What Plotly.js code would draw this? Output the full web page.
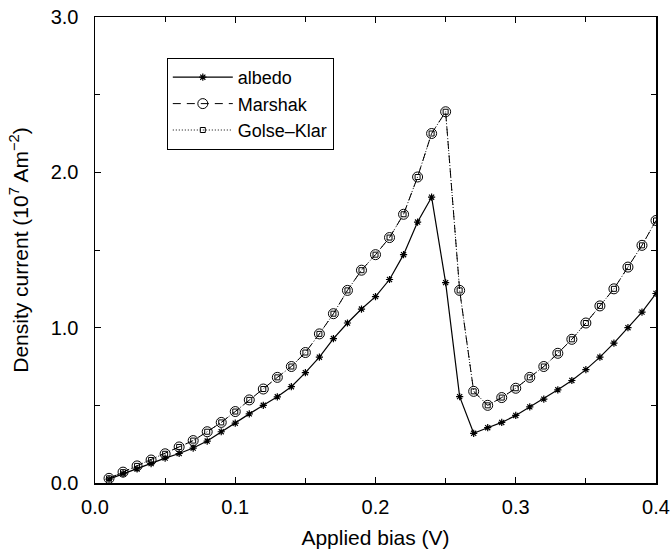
<!DOCTYPE html>
<html>
<head>
<meta charset="utf-8">
<script src="https://cdn.plot.ly/plotly-3.0.1.min.js"></script>
<style>html,body{margin:0;padding:0;background:#fff;}</style>
</head>
<body>
<div id="chart" style="width:672px;height:550px;"></div>
<script>
const bias = [0.01,0.02,0.03,0.04,0.05,0.06,0.07,0.08,0.09,0.10,
              0.11,0.12,0.13,0.14,0.15,0.16,0.17,0.18,0.19,0.20,
              0.21,0.22,0.23,0.24,0.25,0.26,0.27,0.28,0.29,0.30,
              0.31,0.32,0.33,0.34,0.35,0.36,0.37,0.38,0.39,0.40];
const albedo = [0.025,0.06,0.09,0.125,0.16,0.19,0.225,0.27,0.33,0.385,
                0.445,0.50,0.555,0.62,0.71,0.81,0.93,1.03,1.12,1.20,
                1.31,1.47,1.68,1.84,1.29,0.556,0.32,0.356,0.39,0.435,
                0.49,0.54,0.60,0.66,0.73,0.81,0.90,1.00,1.10,1.22];
const marshak = [0.03,0.07,0.11,0.148,0.188,0.232,0.273,0.33,0.39,0.46,
                 0.535,0.605,0.68,0.75,0.84,0.96,1.09,1.24,1.37,1.47,
                 1.58,1.73,1.97,2.25,2.39,1.24,0.59,0.50,0.55,0.61,
                 0.68,0.75,0.835,0.925,1.03,1.14,1.25,1.39,1.53,1.69];
const golseKlar = [0.03,0.07,0.11,0.148,0.188,0.232,0.273,0.33,0.39,0.46,
                   0.535,0.605,0.68,0.75,0.84,0.96,1.09,1.24,1.37,1.47,
                   1.58,1.73,1.97,2.25,2.39,1.24,0.59,0.50,0.55,0.61,
                   0.68,0.75,0.835,0.925,1.03,1.14,1.25,1.39,1.53,1.69];
const names = ["albedo", "Marshak", "Golse\u2013Klar"];
const xTickVals = [0.0, 0.1, 0.2, 0.3, 0.4];
const xTickText = ["0.0", "0.1", "0.2", "0.3", "0.4"];
const yTickVals = [0.0, 1.0, 2.0, 3.0];
const yTickText = ["0.0", "1.0", "2.0", "3.0"];

const traces = [
  {x: bias, y: albedo, name: names[0], mode: "lines+markers",
   line: {color: "#000", width: 1.2},
   marker: {symbol: "asterisk-open", size: 6, color: "#000", line: {color: "#000", width: 1.2}}},
  {x: bias, y: marshak, name: names[1], mode: "lines+markers",
   line: {color: "#000", width: 1, dash: "8px,6px"},
   marker: {symbol: "circle-open", size: 10, color: "#000", line: {color: "#000", width: 1}}},
  {x: bias, y: golseKlar, name: names[2], mode: "lines+markers",
   line: {color: "#000", width: 1, dash: "1px,2px"},
   marker: {symbol: "square-open", size: 5, color: "#000", line: {color: "#000", width: 1}}}
];

const fam = "Liberation Sans, Arial, sans-serif";
const tickFont = {family: fam, size: 20, color: "#000"};
const layout = {
  width: 672, height: 550,
  margin: {l: 95, r: 16, t: 17, b: 67},
  paper_bgcolor: "#fff", plot_bgcolor: "#fff",
  showlegend: true,
  font: tickFont,
  xaxis: {
    range: [0, 0.4], tickvals: xTickVals, ticktext: xTickText,
    ticks: "inside", ticklen: 6, tickwidth: 1, tickcolor: "#000",
    minor: {dtick: 0.05, tick0: 0, ticks: "inside", ticklen: 5, tickwidth: 1, tickcolor: "#000", showgrid: false},
    showline: true, linecolor: "#000", linewidth: 1.5, mirror: "ticks",
    showgrid: false, zeroline: false, automargin: false,
    tickfont: tickFont, ticklabelstandoff: 5,
    title: {text: "Applied bias (V)", font: {family: fam, size: 21, color: "#000"}, standoff: 14}
  },
  yaxis: {
    range: [0, 3], tickvals: yTickVals, ticktext: yTickText,
    ticks: "inside", ticklen: 6, tickwidth: 1, tickcolor: "#000",
    minor: {dtick: 0.5, tick0: 0, ticks: "inside", ticklen: 5, tickwidth: 1, tickcolor: "#000", showgrid: false},
    showline: true, linecolor: "#000", linewidth: 1.5, mirror: "ticks",
    showgrid: false, zeroline: false, automargin: false,
    tickfont: tickFont, ticklabelstandoff: 11,
    title: {text: "Density current (10<sup>7</sup> Am<sup>\u22122</sup>)", font: {family: fam, size: 21, color: "#000"}, standoff: 16}
  },
  legend: {
    x: 0.128, y: 0.912, xanchor: "left", yanchor: "top",
    bordercolor: "#000", borderwidth: 1, bgcolor: "#fff",
    font: {family: fam, size: 18, color: "#000"},
    itemwidth: 60, tracegroupgap: 0
  }
};

Plotly.newPlot("chart", traces, layout, {displayModeBar: false, staticPlot: true});
</script>
</body>
</html>
